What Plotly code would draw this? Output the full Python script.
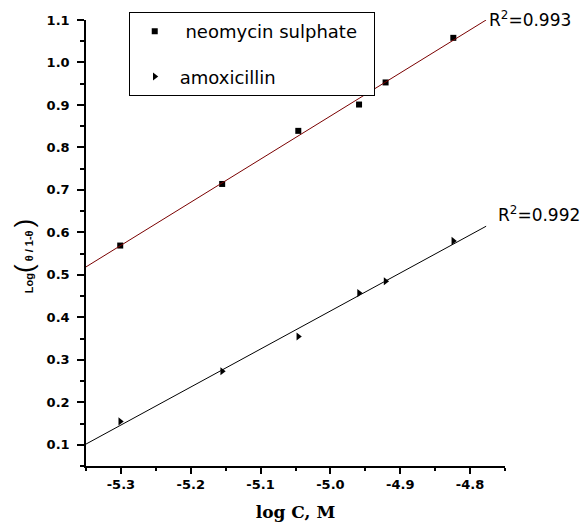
import numpy as np
import plotly.graph_objects as go

# log of the inhibitor concentration (M)
log_c = [-5.301, -5.155, -5.046, -4.959, -4.921, -4.824]

# Log(θ/1-θ) for each inhibitor
neomycin = [0.569, 0.714, 0.839, 0.901, 0.953, 1.058]
amoxicillin = [0.155, 0.273, 0.355, 0.457, 0.485, 0.580]

series_names = [" neomycin sulphate\u00a0\u00a0", "amoxicillin"]
r2_labels = ["R<sup>2</sup>=0.993", "R<sup>2</sup>=0.992"]

x_ticks = [-5.3, -5.2, -5.1, -5.0, -4.9, -4.8]
x_tick_labels = ["-5.3", "-5.2", "-5.1", "-5.0", "-4.9", "-4.8"]
y_ticks = [0.1, 0.2, 0.3, 0.4, 0.5, 0.6, 0.7, 0.8, 0.9, 1.0, 1.1]
y_tick_labels = ["0.1", "0.2", "0.3", "0.4", "0.5", "0.6", "0.7", "0.8", "0.9", "1.0", "1.1"]

x_range = [-5.35, -4.75]
y_range = [0.05, 1.1]
fit_span = [-5.35, -4.777]

fig = go.Figure()

# Experimental points
fig.add_trace(go.Scatter(
    x=log_c, y=neomycin, mode="markers", name=series_names[0],
    legendgroup="a",
    marker=dict(symbol="square", size=6, color="black"),
))
fig.add_trace(go.Scatter(
    x=log_c, y=amoxicillin, mode="markers", name=series_names[1],
    legendgroup="b",
    marker=dict(symbol="triangle-right", size=7, color="black"),
))

# Least-squares lines through each data set
fit_x = np.array(fit_span)
for ys, color in [(neomycin, "#7a0000"), (amoxicillin, "black")]:
    slope, intercept = np.polyfit(log_c, ys, 1)
    fig.add_trace(go.Scatter(
        x=fit_x, y=slope * fit_x + intercept, mode="lines",
        line=dict(color=color, width=1), showlegend=False,
        hoverinfo="skip", cliponaxis=False,
    ))

# R² labels at the end of each fitted line
r2_positions = [(-4.776, 1.002, "paper"), (-4.763, 0.643, "y")]
for (ax_x, ax_y, yref), text in zip(r2_positions, r2_labels):
    fig.add_annotation(
        x=ax_x, y=ax_y, xref="x", yref=yref, text=text, showarrow=False,
        xanchor="left", yanchor="middle",
        font=dict(family="DejaVu Sans", size=17, color="black"),
    )

# Y-axis title with enlarged brackets
fig.add_annotation(
    x=-0.146, y=0.47, xref="paper", yref="paper", textangle=-90,
    showarrow=False, xanchor="center", yanchor="middle",
    text=("<b>Log</b><span style='font-size:26px'>(</span>"
          "<b> θ / 1-θ </b><span style='font-size:26px'>)</span>"),
    font=dict(family="Liberation Sans", size=11, color="black"),
)

tick_font = dict(family="DejaVu Sans", size=13, color="black", weight=800)

fig.update_xaxes(
    range=x_range, tickvals=x_ticks, ticktext=[f"<b>{t}</b>" for t in x_tick_labels],
    automargin=False,
    showline=True, linecolor="black", linewidth=1.5,
    ticks="outside", ticklen=6, tickwidth=1.5, tickcolor="black",
    minor=dict(ticks="outside", ticklen=3, tickwidth=1.5, tickcolor="black", dtick=0.05, tick0=-5.3),
    showgrid=False, zeroline=False, tickfont=tick_font,
    title=dict(text="<b>log C, M</b>", font=dict(family="DejaVu Serif", size=17, color="black"), standoff=15),
)
fig.update_yaxes(
    range=y_range, tickvals=y_ticks, ticktext=[f"<b>{t}</b>" for t in y_tick_labels],
    automargin=False,
    showline=True, linecolor="black", linewidth=1.5,
    ticks="outside", ticklen=7, tickwidth=1.5, tickcolor="black", ticklabelstandoff=5,
    minor=dict(ticks="outside", ticklen=4, tickwidth=1.5, tickcolor="black", dtick=0.05, tick0=0.05),
    showgrid=False, zeroline=False, tickfont=tick_font,
)

fig.update_layout(
    width=588, height=523,
    margin=dict(l=86, r=83, t=18, b=57),
    paper_bgcolor="white", plot_bgcolor="white",
    legend=dict(
        x=0.102, y=1.018, xanchor="left", yanchor="top",
        bordercolor="black", borderwidth=1, bgcolor="white",
        font=dict(family="DejaVu Sans", size=18, color="black"),
        traceorder="grouped", tracegroupgap=19,
        itemwidth=40,
    ),
    showlegend=True,
)

fig.write_html("out.html")
